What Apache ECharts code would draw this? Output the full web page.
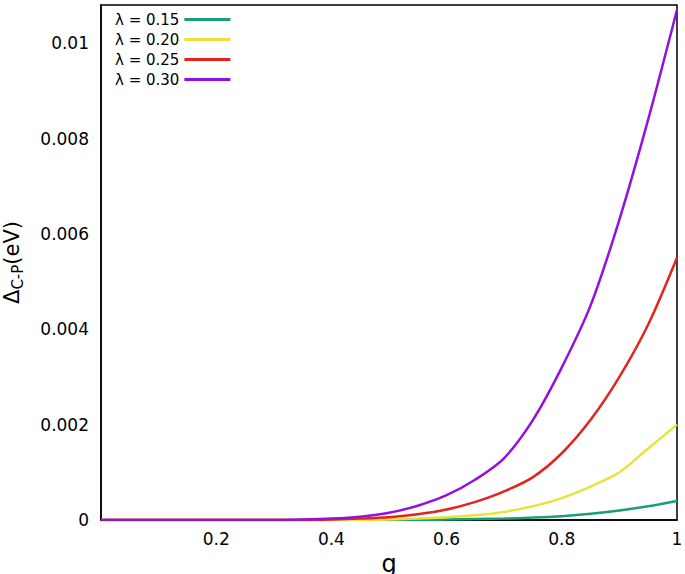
<!DOCTYPE html>
<html><head><meta charset="utf-8">
<script src="https://cdn.jsdelivr.net/npm/echarts@6/dist/echarts.min.js"></script>
<style>html,body{margin:0;background:#fff}#c{width:685px;height:574px}</style>
</head><body><div id="c"></div>
<script>
var gValues = [0,0.05,0.1,0.15,0.2,0.25,0.3,0.35,0.4,0.45,0.5,0.55,0.6,0.65,0.7,0.75,0.8,0.85,0.9,0.95,1];
var seriesNames = ['λ = 0.15','λ = 0.20','λ = 0.25','λ = 0.30'];
var seriesColors = ['#1a9e77','#e8e33a','#e3231c','#9410e0'];
var lam015 = [0,0,0,0,0,0,0,0,0,0,0,0,0.00001,0.00002,0.00003,0.00005,0.00008,0.00013,0.0002,0.00029,0.0004];
var lam020 = [0,0,0,0,0,0,0,0,0,0,0.00001,0.00003,0.00006,0.0001,0.00017,0.00029,0.00046,0.0007,0.001,0.0015,0.002];
var lam025 = [0,0,0,0,0,0,0,0,0.00001,0.00003,0.00006,0.00012,0.00022,0.00038,0.0006,0.0009,0.0014,0.0021,0.003,0.0041,0.0055];
var lam030 = [0,0,0,0,0,0,0,0.00001,0.00003,0.00007,0.00015,0.0003,0.00052,0.00085,0.0013,0.0021,0.0032,0.0045,0.0063,0.0084,0.0107];
var allData = [lam015, lam020, lam025, lam030];

var chart = echarts.init(document.getElementById('c'), null, { renderer: 'svg' });
var font = 'DejaVu Sans';
chart.setOption({
  animation: false,
  grid: { left: 101, right: 8, top: 5, bottom: 54, show: true, borderColor: '#000', borderWidth: 1.5,
    containLabel: false, outerBoundsMode: 'none' },
  legend: {
    orient: 'vertical', left: 110, top: 7, align: 'right', itemGap: 5,
    itemWidth: 46, itemHeight: 3, icon: 'rect',
    textStyle: { fontFamily: font, fontSize: 15, color: '#000' },
    data: seriesNames
  },
  xAxis: {
    type: 'value', min: 0, max: 1, interval: 0.2,
    name: 'g', nameLocation: 'middle', nameGap: 32,
    nameTextStyle: { fontFamily: font, fontSize: 24, color: '#000' },
    axisLine: { lineStyle: { color: '#000', width: 1.5 } },
    axisTick: { show: false }, splitLine: { show: false },
    axisLabel: { fontFamily: font, fontSize: 17, color: '#000', margin: 10,
      formatter: function (v) { return v === 0 ? '' : String(parseFloat(v.toFixed(1))); } }
  },
  yAxis: {
    type: 'value', min: 0, max: 0.0108, interval: 0.002,
    name: '{a|Δ}{b|C-P}{a|(eV)}', nameLocation: 'middle', nameGap: 76, nameRotate: 90,
    nameTextStyle: { rich: {
      a: { fontFamily: font, fontSize: 21, color: '#000' },
      b: { fontFamily: font, fontSize: 15, color: '#000', verticalAlign: 'bottom', padding: [12, 0, 0, 0] }
    } },
    axisLine: { lineStyle: { color: '#000', width: 1.5 } },
    axisTick: { show: false }, splitLine: { show: false },
    axisLabel: { fontFamily: font, fontSize: 17, color: '#000', margin: 12, showMaxLabel: false,
      formatter: function (v) { return v === 0 ? '0' : String(parseFloat(v.toFixed(3))); } }
  },
  series: seriesNames.map(function (n, i) {
    return {
      name: n, type: 'line', smooth: 0.3, showSymbol: false,
      color: seriesColors[i], lineStyle: { width: 2.5 },
      data: gValues.map(function (g, j) { return [g, allData[i][j]]; })
    };
  })
});
</script>
</body></html>
